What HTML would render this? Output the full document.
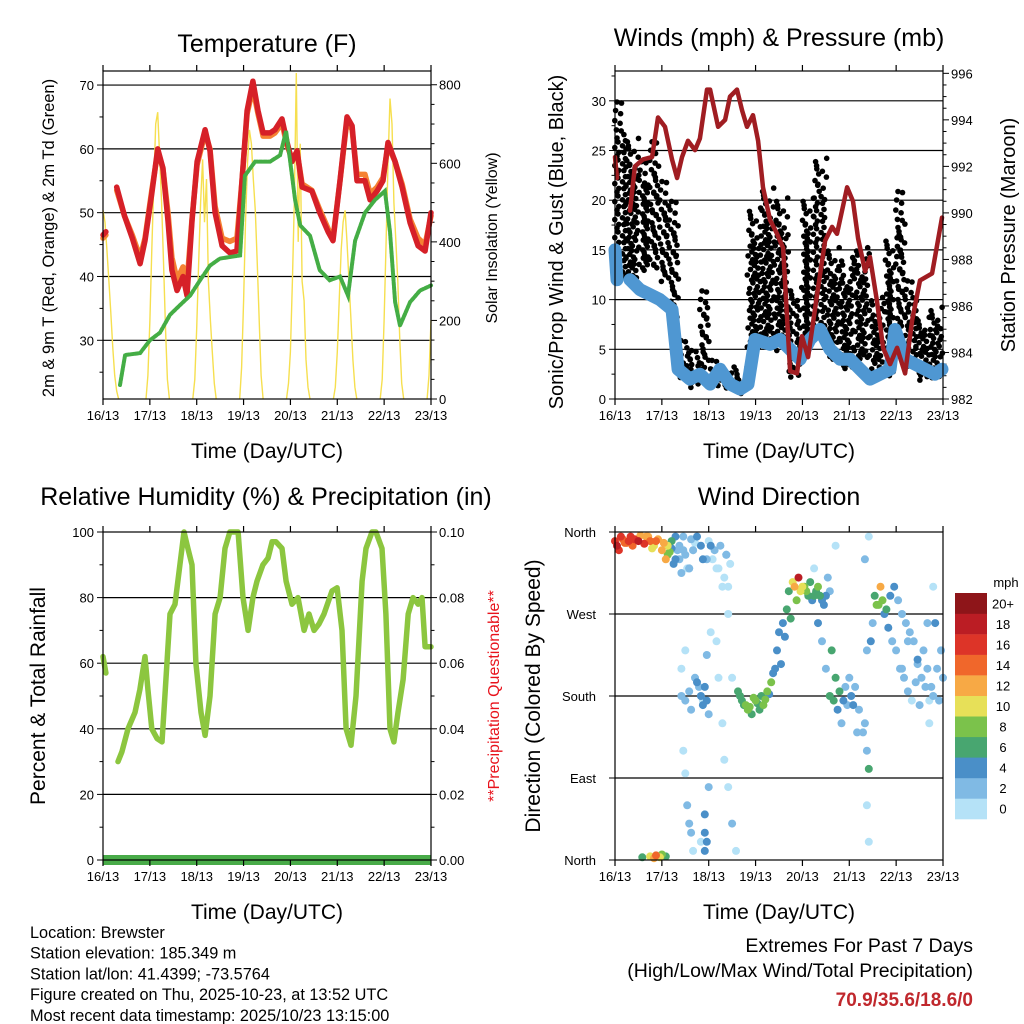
<!DOCTYPE html>
<html><head><meta charset="utf-8"><style>
body{margin:0;background:#fff}
svg{display:block;font-family:"Liberation Sans",sans-serif}
</style></head><body>
<svg id="s" width="1024" height="1024" viewBox="0 0 1024 1024"></svg>
<script>
// ---------- DATA ----------
const dayLabels = ["16/13","17/13","18/13","19/13","20/13","21/13","22/13","23/13"];
const tempHours = [0,1.5,4,7,11,15,19,21.5,25,28,30.7,33.3,35.3,37.9,41,43,45.6,48.2,52.3,54.8,57.4,61,65,68.6,71.2,73.8,76.8,79.4,82,85.6,88.1,91.7,94.3,96.8,99.4,102,107,111,115.3,117.8,121.4,125,127.6,130.1,134.2,136.8,140.4,143.4,146,149.6,153.2,157.3,161.4,165,168];
const temp2m = [46.5,47,null,54,49.5,46,42,45.6,53,60,57,48.7,41,37.8,40,37,48.7,58,63,59.7,50,44.8,43.7,44,55,66,70.6,66,62.5,62.5,63,64.7,61,58,59.7,54,53.4,50,47,45.6,55,65,63.6,55,55,52,53.4,55,61,58,54,48.4,44.8,44,50];
const temp9m = [46,46.5,null,53.5,49.5,46.5,43,46,53.5,59.5,57,50,43,39.5,41.5,39,49,57.5,62.5,60,51,46,45.5,46,55,65.5,69.5,65.5,62,62,62.5,64,60.5,58.5,59.5,54.5,53.5,50.5,47.5,46,55,64.5,63,56,56,53,54,55.5,60.5,58,54.5,49,46,45,49.5];
const dewHours = [0,4,8.7,11.3,19,24,29.2,34.3,39.4,44.6,49.7,54.8,59.9,70.2,72.7,77.9,85.6,90.7,93.8,95.9,98.4,101,106,111,116.1,121.4,125.5,129.1,134.2,139.3,144.4,147,149.6,152.1,157.3,162.4,168];
const dew2m = [32.8,null,23,27.7,28,30,31.2,34,35.5,37,39.4,41.7,42.8,43.3,55.8,58,58,59,62.8,58,52,48,46.4,41,39.4,40,37,45.6,50,52,53.4,47,36,32.3,36,37.8,38.6];
const solarStart = [0,22,46,70,94,118,142,166];
const solarDays = [
 [480,450,380,300,220,130,60,20,0],
 [0,60,200,380,550,700,730,620,500,350,180,50,0],
 [0,50,180,350,500,610,450,560,300,200,120,40,0],
 [0,80,250,450,600,685,650,560,480,350,200,60,0],
 [0,40,120,300,500,830,400,650,300,250,100,30,0],
 [0,30,120,250,380,450,480,400,300,200,100,30,0],
 [0,50,200,400,600,765,700,500,400,300,150,40,0],
 [0,60,200]
];
const presHours = [0,1,4,7.7,10.2,14.3,19,22,25.6,29.2,31.8,34.3,37.4,41,43.5,47.1,48.7,52.8,56.4,58.9,62.5,65.1,67.6,70.7,73.3,75.8,79.4,83,86.1,89.7,93.2,95.8,98.9,103.5,107.6,111.2,113.7,118.9,121.9,124.5,128.1,130.6,134.2,137.3,140.9,144.5,148.6,152.2,156.2,162.4,167.5];
const pressure = [992.4,991.5,null,990.1,992,992.3,992.4,994.1,993.7,992.3,991.5,992.4,993.1,992.7,993.2,995.3,995.3,993.7,994,995,995.3,994.4,993.7,994.2,993.1,991.1,989.7,989.1,988.5,983.2,983.1,984.7,983.8,986.5,988.8,989.4,989.1,991.1,990.5,988.9,987.5,988.1,986.2,984.2,983.5,984.2,983.1,985.4,987.1,987.4,989.8];
const windHours = [0,1,3,7.7,12.8,17.9,23,29.2,32.3,38.4,43.5,48.7,53.8,58.9,64,68.1,71.7,79.4,84.5,89.7,94.8,99.9,105,110.1,115.3,120.4,125.5,130.6,135.8,140.9,143.4,148.6,153.7,158.8,163.9,167.5];
const windSpd = [15,12,null,12,11,10.5,10,9,3,2,2.5,1.5,3,1.5,1,1.5,6,5.5,6,5,4,6,7,5,4,4,3,2,2.5,3,7,4,3.5,3,2.5,3];
const gustHours = [1,9.7,15.4,20.5,25.6,30.2,35.3,41,46.1,51.2,57.4,64.5,71.2,77.9,85.6,92.2,98.4,105,111.2,118.9,126.5,134.2,141.4,146.5,151.1,157.3,164.4];
const gustLo = [12,12,13,13,12,8,2,1,3,1,1,0.5,5,6,5,2,6,7,4,3,4,3,2,7,3,2,2];
const gustHi = [30,26,24,26,22,20,6,5,11,4,3,3,19,21,20,11,20,24,15,14,15,10,16,21,12,8,9];
const rhHours = [0,1.5,4,7.7,9.7,12.8,16.4,18.9,21.5,23,25,27.7,30.2,31.7,34.3,36.9,39.4,41.5,43.5,45.6,47.6,50.2,52.3,54.8,57.4,60,62.5,65,67.6,69.2,71.7,74.3,76.8,78.9,81.9,84.5,86.6,88.6,91.7,93.8,96.8,99.9,103,105.5,108.1,110.7,113.2,117.3,119.9,122.4,124.5,127,129.6,132.7,134.7,137.8,139.8,142.9,144.9,147,149,151.1,153.7,156.3,158.8,161.4,163.4,165,168];
const rhVals = [62,57,null,30,33,40,45,52,62,52,40,37,36,50,75,78,90,100,95,90,60,45,38,50,75,80,95,100,100,100,80,70,80,85,90,92,97,97,95,85,78,80,70,75,70,72,75,82,83,70,40,35,50,85,95,100,100,95,75,40,36,45,55,75,80,78,80,65,65];
const dirHours = [0,1,2,4,6,8,10,12,13,15,17,18,20,22,24,26,27,28,29,30,31,32,33,34,35,36,38,40,42,44,45,48,50,52,54,56,57,58,14,18,20,21,23,24,26,34,34,36,38,39,36,35,36,37,38,39,40,41,42,44,45,46,47,48,46,46,47,46,47,49,52,53,55,56,58,60,62,58,60,64,66,68,70,72,74,76,78,80,82,83,84,86,88,89,91,92,94,95,97,99,101,103,105,107,104,106,108,110,112,114,116,118,120,122,124,128,129,130,129,130,128,130,129,132,134,136,137,138,140,142,144,146,148,150,152,154,156,158,160,162,164,166,168,161,163,
 3,5,7,9,11,16,19,21,25,27,29,31,33,35,37,39,41,43,45,47,49,51,53,55,57,59,63,65,67,69,71,73,75,77,79,81,85,87,90,93,96,98,100,102,104,106,108,110,111,113,115,117,119,121,123,125,127,131,133,135,139,141,143,145,147,149,151,153,155,157,159,161,163,165,167,38,40,44,48,102,109,113,147,150,155,160];
const dirDeg = [350,345,340,352,348,355,352,350,356,347,355,350,345,352,340,330,345,338,350,325,355,340,330,315,355,335,320,340,355,345,330,350,330,320,345,310,335,300,3,4,2,5,3,6,4,210,180,175,185,165,230,120,95,60,40,30,10,200,195,180,170,190,175,160,30,50,20,10,225,250,240,200,150,110,80,40,10,270,200,180,170,165,160,175,165,170,185,195,210,230,250,260,275,295,305,300,310,295,300,290,285,295,290,280,260,240,210,180,175,165,150,190,200,170,140,150,120,100,60,20,330,355,230,260,280,300,285,270,255,240,230,210,200,185,175,195,170,230,210,190,260,175,200,150,300,
 355,348,350,345,352,355,342,350,348,335,342,330,345,340,320,352,348,190,175,330,345,340,320,300,335,325,185,175,170,168,178,172,180,176,182,205,215,245,265,285,300,295,305,290,300,285,290,295,230,200,185,175,170,180,190,165,140,240,290,280,275,290,300,285,270,260,250,240,215,200,190,175,180,210,230,320,340,20,80,320,310,345,210,240,220,260];
const dirSpd = [16,18,17,15,14,16,17,18,13,16,12,15,10,12,13,12,11,9,7,5,4,3,3,3,3,2,2,1,4,4,4,1,1,1,2,1,2,1,7,11,13,15,10,9,6,1,3,3,2,3,1,1,1,2,3,2,1,2,4,4,4,5,4,3,4,4,4,5,3,1,1,1,1,1,1,2,1,1,1,6,7,8,6,9,7,8,9,8,4,4,5,4,6,7,10,13,18,11,9,7,5,6,6,5,4,3,3,7,6,4,3,2,3,4,2,2,3,6,1,1,2,1,2,2,9,13,8,4,4,3,3,2,3,2,1,2,3,2,3,2,4,2,3,1,1,
 17,14,16,15,13,12,11,14,12,9,4,4,3,3,1,2,1,2,1,3,4,2,1,1,2,1,6,7,8,9,8,6,7,9,5,4,4,5,6,9,11,9,7,6,8,5,4,3,6,6,7,5,3,4,2,3,2,4,7,9,6,5,4,3,3,2,2,3,2,3,2,1,2,3,2,3,2,1,2,1,2,1,2,3,4,2];
const cbLabels = ["0","2","4","6","8","10","12","14","16","18","20+"];
const cbColors = ["#b5e2f7","#80bae4","#4a8fc8","#48a670","#7bc24b","#e7e058","#f7a945","#f0672b","#dd3428","#bb1d24","#8e1519"];

// ---------- HELPERS ----------
const S = document.getElementById('s');
const NS = 'http://www.w3.org/2000/svg';
function el(tag, attrs, parent){const e=document.createElementNS(NS,tag);for(const k in attrs)e.setAttribute(k,attrs[k]);(parent||S).appendChild(e);return e;}
function txt(str,x,y,size,anchor,extra){const t=el('text',Object.assign({x:x,y:y,'font-size':size,'text-anchor':anchor||'middle',fill:'#000'},extra||{}));t.textContent=str;return t;}
function pathFrom(hours,vals,fx,fy){let d='',pen=false;for(let i=0;i<hours.length;i++){if(vals[i]===null){pen=false;continue;}d+=(pen?'L':'M')+fx(hours[i]).toFixed(1)+' '+fy(vals[i]).toFixed(1);pen=true;}return d;}

function panel(X0,X1,Y0,Y1,name){
  const g=el('g',{});
  
  
  return {g,X0,X1,Y0,Y1,fx:h=>X0+(X1-X0)*h/168};
}
function hgrid(p,ys,name){ys.forEach(y=>{const l=el('line',{x1:p.X0,x2:p.X1,y1:y,y2:y,stroke:'#000','stroke-width':1.2},p.g);});}
function frame(p){
  const r=el('rect',{x:p.X0,y:p.Y0,width:p.X1-p.X0,height:p.Y1-p.Y0,fill:'none',stroke:'#000','stroke-width':1.2},p.g);
  
  
  for(let d=0;d<8;d++){const x=p.fx(d*24);
    el('line',{x1:x,x2:x,y1:p.Y1,y2:p.Y1+6,stroke:'#000','stroke-width':1.2},p.g);
    el('line',{x1:x,x2:x,y1:p.Y0,y2:p.Y0-6,stroke:'#000','stroke-width':1.2},p.g);
    const t=txt(dayLabels[d],x,p.Y1+21,13);
    
    
  }
}
function yAxis(p,side,lo,hi,major,minor,fmt,name){
  const fy=v=>p.Y1-(p.Y1-p.Y0)*(v-lo)/(hi-lo);
  const x=side==='L'?p.X0:p.X1, dir=side==='L'?-1:1;
  const start=Math.ceil(lo/minor-1e-6)*minor;
  for(let v=start;v<=hi+1e-6;v+=minor){
    const isMaj=Math.abs(v/major-Math.round(v/major))<1e-6;
    el('line',{x1:x,x2:x+dir*(isMaj?6:3.5),y1:fy(v),y2:fy(v),stroke:'#000','stroke-width':1},p.g);
    if(isMaj){const t=txt(fmt(v),x+dir*(side==='L'?9:8),fy(v)+5,13,side==='L'?'end':'start');}
  }
  return fy;
}
function rotLabel(str,x,y,size,name,color){const t=txt(str,x,y,size,'middle',{transform:`rotate(-90 ${x} ${y})`,fill:color||'#000'});return t;}
function title(str,x,y,name){const t=txt(str,x,y,25);}
function xTitle(x,y){const xl=txt('Time (Day/UTC)',x,y,21);}

// ---------- PANEL 1: Temperature ----------
{
const p=panel(103,431,71,399,'temperature-panel');
const fy=yAxis(p,'L',20.8,72.2,10,5,v=>String(Math.round(v)),'y-tick-label');
const fs=yAxis(p,'R',0,835,200,50,v=>String(Math.round(v)),'solar-tick-label');
hgrid(p,[30,40,50,60,70].map(fy),'grid-line');
for(let d=0;d<solarDays.length;d++){
  const hs=solarDays[d].map((v,i)=>solarStart[d]+i);
  const pl=el('path',{d:pathFrom(hs,solarDays[d],p.fx,fs),fill:'none',stroke:'#f6df4f','stroke-width':1.4},p.g);
  
  
}
const o=el('path',{d:pathFrom(tempHours,temp9m,p.fx,fy),fill:'none',stroke:'#f58233','stroke-width':5.5,'stroke-linejoin':'round','stroke-linecap':'round'},p.g);


const r=el('path',{d:pathFrom(tempHours,temp2m,p.fx,fy),fill:'none',stroke:'#d62028','stroke-width':5.5,'stroke-linejoin':'round','stroke-linecap':'round'},p.g);


const g=el('path',{d:pathFrom(dewHours,dew2m,p.fx,fy),fill:'none',stroke:'#44ad45','stroke-width':4,'stroke-dasharray':'3 1.5','stroke-linecap':'round'},p.g);


frame(p);
title('Temperature (F)',267,52,'temperature-title');
rotLabel('2m & 9m T (Red, Orange) & 2m Td (Green)',54,238,16.5,'temperature-y-axis-title');
rotLabel('Solar Insolation (Yellow)',497,238,16,'solar-y-axis-title');
xTitle(267,458);
}
// ---------- PANEL 2: Winds ----------
{
const p=panel(615,943,71,399,'winds-panel');
const fy=yAxis(p,'L',0,33,5,2.5,v=>String(Math.round(v)),'y-tick-label');
const fp=yAxis(p,'R',982,996.1,2,0.5,v=>String(Math.round(v)),'pressure-tick-label');
hgrid(p,[5,10,15,20,25,30].map(fy),'grid-line');
const jit=[0,2.1,-1.4,1.2,-2.2,0.7,-0.6,1.8];
for(let i=0;i<gustHours.length;i++){
  const hl=i>0?(gustHours[i]+gustHours[i-1])/2:0;
  const hr=i<gustHours.length-1?(gustHours[i]+gustHours[i+1])/2:168;
  const x0=p.fx(hl)+2,x1=p.fx(hr)-1,yT=fy(gustHi[i]),yB=fy(gustLo[i]);
  let row=0,k=0;
  for(let y=yT;y<=yB;y+=4.5,row++){
    const gap=(y-yT)<(yB-yT)*0.2?9:4.8;
    for(let x=x0+(row%2)*2.4;x<=x1;x+=gap,k++){
    const c=el('circle',{cx:(x+jit[k%8]).toFixed(1),cy:(y+jit[(k+3)%8]).toFixed(1),r:2.8,fill:'#000'},p.g);
    
    
  }}
}
const w=el('path',{d:pathFrom(windHours,windSpd,p.fx,fy),fill:'none',stroke:'#4f97d2','stroke-width':13,'stroke-linejoin':'round','stroke-linecap':'round'},p.g);


const pr=el('path',{d:pathFrom(presHours,pressure,p.fx,fp),fill:'none',stroke:'#a01d22','stroke-width':4.5,'stroke-linejoin':'round','stroke-linecap':'round'},p.g);


frame(p);
title('Winds (mph) & Pressure (mb)',779,46,'winds-title');
rotLabel('Sonic/Prop Wind & Gust (Blue, Black)',563,242,20,'wind-y-axis-title');
rotLabel('Station Pressure (Maroon)',1015,235,20,'pressure-y-axis-title');
xTitle(779,458);
}
// ---------- PANEL 3: RH ----------
{
const p=panel(103,431,532,860,'humidity-panel');
const fy=yAxis(p,'L',0,100,20,10,v=>String(Math.round(v)),'y-tick-label');
yAxis(p,'R',0,0.1,0.02,0.01,v=>v.toFixed(2),'precip-tick-label');
hgrid(p,[20,40,60,80].map(fy),'grid-line');
const r=el('path',{d:pathFrom(rhHours,rhVals,p.fx,fy),fill:'none',stroke:'#8cc63f','stroke-width':5.5,'stroke-linejoin':'round','stroke-linecap':'round'},p.g);


const pc=el('rect',{x:p.X0,y:855,width:p.X1-p.X0,height:10,fill:'#48ab48'},p.g);


frame(p);
title('Relative Humidity (%) & Precipitation (in)',266,505,'humidity-title');
rotLabel('Percent & Total Rainfall',45,696,21,'humidity-y-axis-title');
rotLabel('**Precipitation Questionable**',499,696,16,'precip-warning-label','#e8121b');
xTitle(267,919);
}
// ---------- PANEL 4: Wind Direction ----------
{
const p=panel(615,943,532,860,'wind-direction-panel');
const fy=v=>p.Y1-(p.Y1-p.Y0)*v/360;
const dl=["North","East","South","West","North"];
[0,90,180,270,360].forEach((v,i)=>{el('line',{x1:p.X0-6,x2:p.X0,y1:fy(v),y2:fy(v),stroke:'#000'},p.g);const t=txt(dl[i],596,fy(v)+5,13,'end');});
hgrid(p,[90,180,270].map(fy),'grid-line');
function col(s){return cbColors[Math.min(10,Math.floor(s/2))];}
const order=dirHours.map((h,i)=>i).sort((a,b)=>dirSpd[a]-dirSpd[b]);
for(const i of order){
  const c=el('circle',{cx:p.fx(dirHours[i]).toFixed(1),cy:fy(dirDeg[i]).toFixed(1),r:4,fill:col(dirSpd[i])},p.g);
  
  
}
frame(p);
title('Wind Direction',779,505,'wind-direction-title');
rotLabel('Direction (Colored By Speed)',540,696,21,'direction-y-axis-title');
xTitle(779,919);
const cb=el('g',{});


const ch=226/11;
for(let i=0;i<11;i++){const y=819-(i+1)*ch;
  const r=el('rect',{x:955,y:y.toFixed(1),width:32,height:(ch+0.3).toFixed(1),fill:cbColors[i]},cb);
  
  
  const t=txt(cbLabels[i],1003,y+ch/2+5,13,'middle');
  
  
}
const u=txt('mph',1006,587,13,'middle');
}
// ---------- FOOTER ----------
["Location: Brewster","Station elevation: 185.349 m","Station lat/lon: 41.4399; -73.5764","Figure created on Thu, 2025-10-23, at 13:52 UTC","Most recent data timestamp: 2025/10/23 13:15:00"].forEach((s,i)=>{
  const t=txt(s,30,938+i*20.7,16.3,'start');
  
  
});
{const t=txt('Extremes For Past 7 Days',973,952,19.5,'end');}
{const t=txt('(High/Low/Max Wind/Total Precipitation)',973,977,19.5,'end');}
{const t=txt('70.9/35.6/18.6/0',973,1006,19,'end',{fill:'#c0282d','font-weight':'bold'});}
</script>
</body></html>
